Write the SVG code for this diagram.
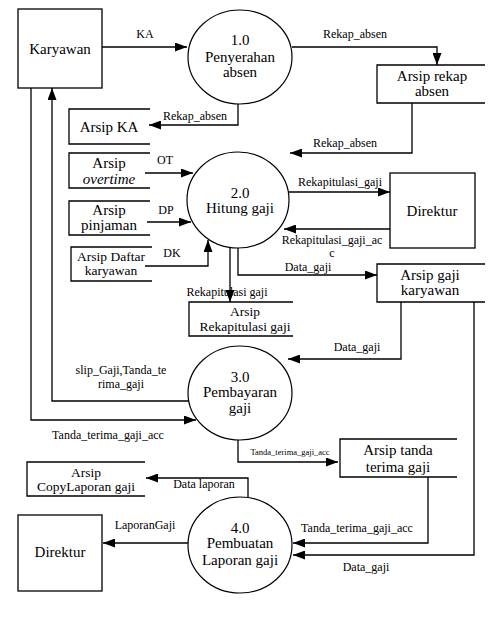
<svg xmlns="http://www.w3.org/2000/svg" width="495" height="624" viewBox="0 0 495 624" font-family="'Liberation Serif', 'Times New Roman', 'DejaVu Serif', serif">
<style>
.bg{fill:#fff}
.ent{fill:none;stroke:#000;stroke-width:1.3}
.proc{fill:none;stroke:#000;stroke-width:1.2}
.store{fill:none;stroke:#000;stroke-width:1.3}
.c{fill:none;stroke:#000;stroke-width:1.3;marker-end:url(#ah)}
text{font-family:'Liberation Serif','Times New Roman','DejaVu Serif',serif;fill:#000;text-anchor:middle}
.t{font-size:15px}
.ts{font-size:13.5px}
.l{font-size:12px}
.xs{font-size:8.5px}
</style>
<defs>
<marker id="ah" markerWidth="12" markerHeight="9" refX="12" refY="4.5" orient="auto" markerUnits="userSpaceOnUse">
<path d="M0,0 L12,4.5 L0,9 Z" fill="#000"/>
</marker>
</defs>
<rect class="bg" x="0" y="0" width="495" height="624"/>

<g id="connectors">
<path class="c" d="M102,47 H187"/>
<path class="c" d="M292,47 H437 V65"/>
<path class="c" d="M238,104 V125 H149"/>
<path class="c" d="M412,103 V153 H290"/>
<path class="c" d="M145,173 H193"/>
<path class="c" d="M147,222 H191"/>
<path class="c" d="M145,266 H208 V240"/>
<path class="c" d="M288,192 H390"/>
<path class="c" d="M390,229 H284"/>
<path class="c" d="M238,248 V275 H377"/>
<path class="c" d="M230,247 V302"/>
<path class="c" d="M401,302 V359 H288"/>
<path class="c" d="M474,302 V555 H293"/>
<path class="c" d="M428,477 V543 H293"/>
<path class="c" d="M189,401 H52 V88"/>
<path class="c" d="M31,88 V420 H196"/>
<path class="c" d="M238,440 V462 H338"/>
<path class="c" d="M248,497 V478 H146"/>
<path class="c" d="M188,543 H103"/>
<text class="l" x="145" y="38">KA</text>
<text class="l" x="355" y="38">Rekap_absen</text>
<text class="l" x="195" y="120">Rekap_absen</text>
<text class="l" x="345" y="147">Rekap_absen</text>
<text class="l" x="165" y="164">OT</text>
<text class="l" x="166" y="214">DP</text>
<text class="l" x="172" y="257">DK</text>
<text class="l" x="340" y="186">Rekapitulasi_gaji</text>
<text class="l" x="332" y="244">Rekapitulasi_gaji_ac</text>
<text class="l" x="332" y="257">c</text>
<text class="l" x="308" y="271">Data_gaji</text>
<text class="l" x="227" y="296">Rekapitulasi gaji</text>
<text class="l" x="357" y="351">Data_gaji</text>
<text class="l" x="121" y="374">slip_Gaji,Tanda_te</text>
<text class="l" x="121" y="388">rima_gaji</text>
<text class="l" x="108" y="439">Tanda_terima_gaji_acc</text>
<text class="xs" x="290" y="455">Tanda_terima_gaji_acc</text>
<text class="l" x="204" y="488">Data laporan</text>
<text class="l" x="145" y="529">LaporanGaji</text>
<text class="l" x="357" y="532">Tanda_terima_gaji_acc</text>
<text class="l" x="366" y="571">Data_gaji</text>
</g>

<g id="karyawan">
<rect class="ent" x="18" y="9" width="84" height="79"/>
<text class="t" x="60" y="54">Karyawan</text>
</g>

<g id="p1">
<ellipse class="proc" cx="240" cy="57" rx="52" ry="47"/>
<text class="t" x="240" y="45">1.0</text>
<text class="t" x="240" y="62">Penyerahan</text>
<text class="t" x="240" y="77">absen</text>
</g>

<g id="p2">
<ellipse class="proc" cx="238" cy="200" rx="51" ry="48"/>
<text class="t" x="240" y="198">2.0</text>
<text class="t" x="240" y="213">Hitung gaji</text>
</g>

<g id="p3">
<ellipse class="proc" cx="240" cy="393" rx="52" ry="47"/>
<text class="t" x="240" y="382">3.0</text>
<text class="t" x="240" y="397">Pembayaran</text>
<text class="t" x="240" y="413">gaji</text>
</g>

<g id="p4">
<ellipse class="proc" cx="240" cy="545" rx="52" ry="48"/>
<text class="t" x="240" y="533">4.0</text>
<text class="t" x="240" y="548">Pembuatan</text>
<text class="t" x="240" y="565">Laporan gaji</text>
</g>

<g id="direktur1">
<rect class="ent" x="390" y="173" width="85" height="75"/>
<text class="t" x="432" y="216">Direktur</text>
</g>

<g id="direktur2">
<rect class="ent" x="18" y="515" width="84" height="76"/>
<text class="t" x="60" y="557">Direktur</text>
</g>

<g id="arsip-ka">
<path class="store" d="M150,109 H69 V144 H150"/>
<text class="t" x="109" y="132">Arsip KA</text>
</g>

<g id="arsip-overtime">
<path class="store" d="M150,153 H69 V188 H150"/>
<text class="t" x="109" y="168">Arsip</text>
<text class="t" x="109" y="184" font-style="italic">overtime</text>
</g>

<g id="arsip-pinjaman">
<path class="store" d="M150,201 H69 V235 H150"/>
<text class="t" x="109" y="215">Arsip</text>
<text class="t" x="109" y="230">pinjaman</text>
</g>

<g id="arsip-daftar">
<path class="store" d="M152,247 H71 V281 H152"/>
<text class="ts" x="111" y="261">Arsip Daftar</text>
<text class="ts" x="111" y="275">karyawan</text>
</g>

<g id="arsip-rekap-absen">
<path class="store" d="M485,65 H377 V103 H485"/>
<text class="t" x="432" y="81">Arsip rekap</text>
<text class="t" x="432" y="96">absen</text>
</g>

<g id="arsip-gaji-karyawan">
<path class="store" d="M485,264 H377 V302 H485"/>
<text class="t" x="430" y="280">Arsip gaji</text>
<text class="t" x="430" y="295">karyawan</text>
</g>

<g id="arsip-rekapitulasi">
<path class="store" d="M293,302 H189 V336 H293"/>
<text class="ts" x="245" y="316">Arsip</text>
<text class="ts" x="245" y="331">Rekapitulasi gaji</text>
</g>

<g id="arsip-tanda-terima">
<path class="store" d="M457,439 H340 V477 H457"/>
<text class="t" x="398" y="455">Arsip tanda</text>
<text class="t" x="398" y="472">terima gaji</text>
</g>

<g id="arsip-copy-laporan">
<path class="store" d="M145,462 H27 V496 H145"/>
<text class="ts" x="86" y="477">Arsip</text>
<text class="ts" x="86" y="491">CopyLaporan gaji</text>
</g>
</svg>
